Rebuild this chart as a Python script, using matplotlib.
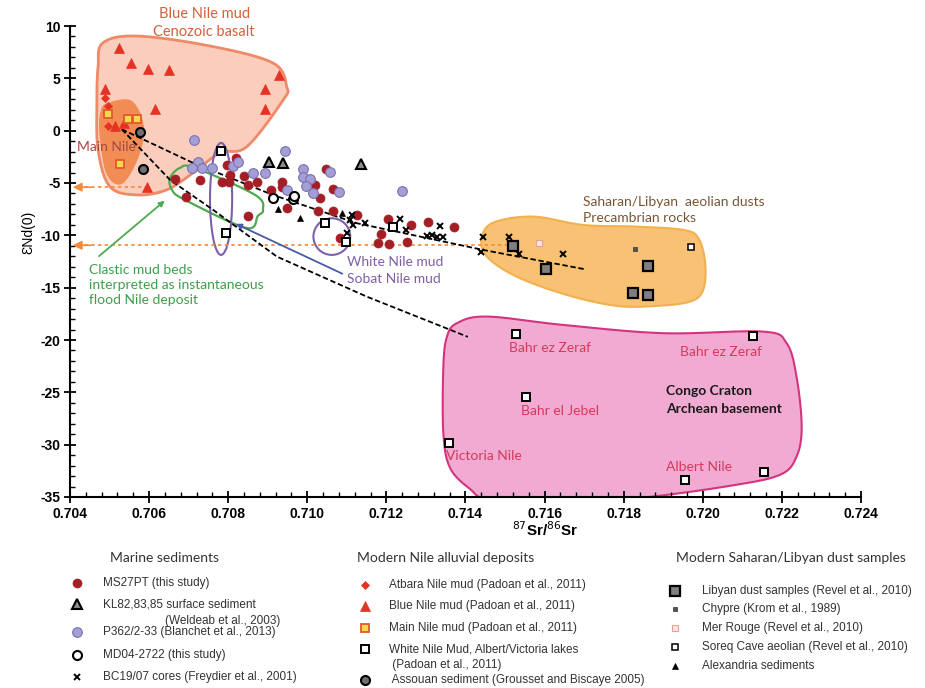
import numpy as np
import matplotlib.pyplot as plt
from matplotlib.patches import Polygon, Ellipse
from matplotlib.ticker import MultipleLocator

plt.rcParams['axes.unicode_minus'] = False
ANN = 'Lato'
ARIAL = 'Liberation Sans'

# ---- data: 87Sr/86Sr (x) and eNd(0) (y) ----
ms27_x = [0.70819, 0.70796, 0.70805, 0.70784, 0.70802, 0.70840, 0.70851, 0.70872, 0.70665, 0.70729,
          0.70693, 0.70849, 0.70935, 0.70935, 0.70907, 0.70948, 0.71019, 0.71032, 0.71047, 0.71066,
          0.71028, 0.71064, 0.71083, 0.71126, 0.71186, 0.71180, 0.71207, 0.71205, 0.71262, 0.71251,
          0.71304, 0.71372]
ms27_y = [-2.58, -3.28, -4.23, -4.87, -4.87, -4.33, -5.19, -4.87, -4.61, -4.71,
          -6.36, -8.12, -4.93, -5.41, -5.66, -7.41, -5.19, -6.40, -3.66, -5.57,
          -7.67, -7.67, -10.22, -8.05, -9.89, -10.70, -10.85, -8.43, -9.01, -10.60,
          -8.69, -9.17]

p362_x = [0.70714, 0.70724, 0.70708, 0.70733, 0.70758, 0.70813, 0.70826, 0.70944, 0.70863, 0.70893,
          0.70990, 0.70990, 0.71007, 0.70996, 0.71015, 0.71057, 0.71080, 0.70948, 0.71240]
p362_y = [-0.89, -2.96, -3.59, -3.59, -3.59, -3.34, -3.02, -1.91, -4.01, -4.01,
          -3.69, -4.39, -4.61, -5.28, -5.98, -3.97, -5.88, -5.66, -5.73]

kl82_x = [0.70904, 0.70938, 0.71135]
kl82_y = [-3.02, -3.11, -3.18]

md04_x = [0.70914, 0.70963, 0.70966]
md04_y = [-6.46, -6.52, -6.21]

bc19_x = [0.71112, 0.71108, 0.71116, 0.71100, 0.71146, 0.71234, 0.71250, 0.71336, 0.71315, 0.71327,
          0.71344, 0.71302, 0.71445, 0.71511, 0.71535, 0.71647, 0.71438]
bc19_y = [-8.05, -8.53, -9.01, -9.80, -8.79, -8.46, -9.48, -9.10, -9.96, -10.12,
          -10.12, -10.06, -10.18, -10.18, -11.78, -11.78, -11.56]

atbara_x = [0.70488, 0.70497, 0.70497]
atbara_y = [3.09, 2.36, 0.45]

bluenile_x = [0.70524, 0.70553, 0.70597, 0.70650, 0.70928, 0.70892, 0.70488, 0.70615, 0.70894,
              0.70537, 0.70514, 0.70595]
bluenile_y = [7.93, 6.44, 5.92, 5.77, 5.29, 3.95, 3.95, 2.04, 2.07, 0.71, 0.45, -5.35]

mainnile_x = [0.70495, 0.70547, 0.70569, 0.70526]
mainnile_y = [1.57, 1.09, 1.09, -3.18]

whitenile_x = [0.70782, 0.70794, 0.71045, 0.71098, 0.71217, 0.71527, 0.72126, 0.71552, 0.71358,
               0.71956, 0.72155]
whitenile_y = [-1.91, -9.74, -8.79, -10.60, -9.23, -19.45, -19.58, -25.46, -29.80, -33.36, -32.57]

assouan_x = [0.70577, 0.70585]
assouan_y = [-0.15, -3.66]

libyan_x = [0.71519, 0.71603, 0.71861, 0.71824, 0.71861]
libyan_y = [-10.98, -13.21, -12.89, -15.53, -15.69]

chypre_x, chypre_y = [0.71829], [-11.33]
merrouge_x, merrouge_y = [0.71587], [-10.70]
soreq_x, soreq_y = [0.71969], [-11.08]

alex_x = [0.70927, 0.70982, 0.71087]
alex_y = [-7.48, -8.37, -7.89]

# mixing curves
mix1_x = [0.70531, 0.70711, 0.70913, 0.71125, 0.71444, 0.71702]
mix1_y = [0.13, -3.08, -6.14, -8.84, -11.39, -13.24]
mix2_x = [0.70531, 0.70653, 0.70762, 0.70923, 0.71150, 0.71406]
mix2_y = [0.13, -4.71, -7.57, -12.03, -15.85, -19.70]

# source fields (outlines)
bn_field_x = [0.70471, 0.70483, 0.70569, 0.70754, 0.70913, 0.70948, 0.70939, 0.70847, 0.70779,
              0.70711, 0.70644, 0.70569, 0.70501, 0.70471, 0.70468]
bn_field_y = [6.11, 8.38, 9.04, 8.09, 6.47, 4.20, 2.93, -1.53, -2.13, -4.04, -5.66, -6.14, -5.35,
              -1.84, 2.93]
mn_field_x = [0.70501, 0.70556, 0.70585, 0.70572, 0.70531, 0.70493, 0.70476, 0.70480]
mn_field_y = [2.65, 2.77, 0.38, -2.48, -5.02, -4.04, -0.22, 1.98]
sa_field_x = [0.71470, 0.71571, 0.71698, 0.71833, 0.71951, 0.71989, 0.72006, 0.72001, 0.71968,
              0.71883, 0.71782, 0.71656, 0.71529, 0.71454, 0.71441]
sa_field_y = [-8.79, -8.21, -9.01, -9.17, -9.48, -10.28, -12.66, -15.21, -16.33, -16.74, -16.74,
              -15.69, -13.94, -12.03, -10.28]
cc_field_x = [0.71378, 0.71454, 0.71647, 0.71900, 0.72153, 0.72212, 0.72237, 0.72250, 0.72237,
              0.72195, 0.72069, 0.71841, 0.71639, 0.71462, 0.71411, 0.71361, 0.71344, 0.71344, 0.71353]
cc_field_y = [-18.40, -17.76, -18.56, -19.35, -19.20, -20.31, -23.50, -28.27, -31.14, -32.88,
              -33.93, -35.08, -35.46, -35.27, -34.22, -32.22, -28.90, -22.54, -19.70]
flood_x = [0.70653, 0.70678, 0.70716, 0.70868, 0.70888, 0.70875, 0.70845, 0.70691, 0.70658]
flood_y = [-4.52, -3.56, -3.56, -6.14, -7.57, -8.15, -9.29, -6.62, -5.66]


def smooth(xs, ys, n=16):
    # closed Catmull-Rom outline
    p = np.column_stack([xs, ys])
    m = len(p)
    t = np.linspace(0, 1, n, endpoint=False)[:, None]
    out = []
    for i in range(m):
        p0, p1, p2, p3 = p[i - 1], p[i], p[(i + 1) % m], p[(i + 2) % m]
        out.append(0.5 * (2 * p1 + (-p0 + p2) * t + (2 * p0 - 5 * p1 + 4 * p2 - p3) * t ** 2
                          + (-p0 + 3 * p1 - 3 * p2 + p3) * t ** 3))
    return np.vstack(out)


styles = {
    'ms27': dict(marker='o', ms=6.5, mfc='#A31F25', mec='#A31F25', mew=0.5),
    'kl82': dict(marker='^', ms=6.5, mfc='#8C8C8C', mec='black', mew=1.5),
    'p362': dict(marker='o', ms=7, mfc='#A39ED4', mec='#7A72B6', mew=0.8),
    'md04': dict(marker='o', ms=6.5, mfc='white', mec='black', mew=1.5),
    'bc19': dict(marker='x', ms=4.5, mfc='black', mec='black', mew=1.4),
    'atbara': dict(marker='D', ms=4.5, mfc='#E53323', mec='#E53323', mew=0.5),
    'bluenile': dict(marker='^', ms=7, mfc='#E53323', mec='#E53323', mew=0.5),
    'mainnile': dict(marker='s', ms=5.5, mfc='#F8D64E', mec='#E05A2A', mew=1.3),
    'whitenile': dict(marker='s', ms=5.5, mfc='white', mec='black', mew=1.4),
    'assouan': dict(marker='o', ms=6.5, mfc='#707070', mec='black', mew=1.5),
    'libyan': dict(marker='s', ms=6.5, mfc='#7F7F7F', mec='black', mew=1.6),
    'chypre': dict(marker='s', ms=3.5, mfc='#555555', mec='#333333', mew=0.5),
    'merrouge': dict(marker='s', ms=4, mfc='#FBE6E0', mec='#E8A090', mew=0.8),
    'soreq': dict(marker='s', ms=4.5, mfc='white', mec='black', mew=1.1),
    'alex': dict(marker='^', ms=4, mfc='black', mec='black', mew=0.5),
}

fig = plt.figure(figsize=(9.25, 6.88), dpi=100)
ax = fig.add_axes([70 / 925, 1 - 497 / 688, 791 / 925, 471 / 688])

# fields
ax.add_patch(Polygon(smooth(bn_field_x, bn_field_y), closed=True, fc='#FBCDBD', ec='#EE8A68', lw=2, zorder=1))
ax.add_patch(Polygon(smooth(mn_field_x, mn_field_y), closed=True, fc='#F28C55', ec='#F28C55', lw=1, zorder=1.1))
ax.add_patch(Polygon(smooth(sa_field_x, sa_field_y), closed=True, fc='#F9C173', ec='#F0B14E', lw=1.5, zorder=1))
ax.add_patch(Polygon(smooth(cc_field_x, cc_field_y), closed=True, fc='#F1AAD2', ec='#D33480', lw=1.5, zorder=1))
ax.add_patch(Polygon(smooth(flood_x, flood_y), closed=True, fc='none', ec='#4DAA50', lw=1.6, zorder=2))
ax.add_patch(Ellipse((0.70782, -6.52), 0.00056, 10.7, fc='none', ec='#7E60AA', lw=1.5, zorder=2))
ax.add_patch(Ellipse((0.71062, -10.12), 0.00093, 3.5, fc='none', ec='#7E60AA', lw=1.5, zorder=2))

# orange dotted arrows to the y axis
for x0, y0 in [(0.70595, -5.4), (0.7152, -10.95)]:
    ax.plot([0.7042, x0], [y0, y0], ls=(0, (2, 2)), color='#F08A3C', lw=1.2, zorder=2)
    ax.annotate('', xy=(0.704, y0), xytext=(0.7046, y0),
                arrowprops=dict(arrowstyle='-|>', color='#F08A3C', lw=1.2, mutation_scale=13), zorder=2)

# mixing lines
ax.plot(mix1_x, mix1_y, ls=(0, (3, 1.5)), color='black', lw=1.3, zorder=3)
ax.plot(mix2_x, mix2_y, ls=(0, (3, 1.5)), color='black', lw=1.3, zorder=3)

# samples
series = [('ms27', ms27_x, ms27_y), ('p362', p362_x, p362_y), ('kl82', kl82_x, kl82_y),
          ('md04', md04_x, md04_y), ('bc19', bc19_x, bc19_y), ('alex', alex_x, alex_y),
          ('atbara', atbara_x, atbara_y), ('bluenile', bluenile_x, bluenile_y),
          ('mainnile', mainnile_x, mainnile_y), ('whitenile', whitenile_x, whitenile_y),
          ('assouan', assouan_x, assouan_y), ('libyan', libyan_x, libyan_y),
          ('chypre', chypre_x, chypre_y), ('merrouge', merrouge_x, merrouge_y),
          ('soreq', soreq_x, soreq_y)]
for key, xs, ys in series:
    ax.plot(xs, ys, ls='none', zorder=4, clip_on=False, **styles[key])

# annotations
ax.text(0.70739, 11.15, 'Blue Nile mud', color='#D4603C', fontsize=10.5, family=ANN, ha='center', va='center', clip_on=False)
ax.text(0.70739, 9.43, 'Cenozoic basalt', color='#D4603C', fontsize=10.5, family=ANN, ha='center', va='center', clip_on=False)
ax.text(0.70418, -1.56, 'Main Nile', color='#A4493E', fontsize=10, family=ANN, va='center')
ax.text(0.71698, -6.78, 'Saharan/Libyan  aeolian dusts', color='#7A5535', fontsize=10, family=ANN, va='center')
ax.text(0.71698, -8.37, 'Precambrian rocks', color='#7A5535', fontsize=10, family=ANN, va='center')
ax.text(0.71100, -12.51, 'White Nile mud', color='#7E5FA8', fontsize=10, family=ANN, va='center')
ax.text(0.71100, -14.16, 'Sobat Nile mud', color='#7E5FA8', fontsize=10, family=ANN, va='center')
ax.annotate('', xy=(0.70813, -8.79), xytext=(0.71095, -13.78),
            arrowprops=dict(arrowstyle='-|>', color='#4A5AA8', lw=1.3, mutation_scale=8), zorder=3)
ax.text(0.70448, -12.7, 'Clastic mud beds\ninterpreted as instantaneous\nflood Nile deposit',
        color='#3E9E4A', fontsize=10, family=ANN, va='top', linespacing=1.3)
ax.annotate('', xy=(0.70645, -6.52), xytext=(0.70468, -12.16),
            arrowprops=dict(arrowstyle='-|>', color='#4DAA50', lw=1.3, mutation_scale=8), zorder=3)

pink = '#D63A5A'
ax.text(0.71510, -20.73, 'Bahr ez Zeraf', color=pink, fontsize=10, family=ANN, va='center')
ax.text(0.71942, -21.11, 'Bahr ez Zeraf', color=pink, fontsize=10, family=ANN, va='center')
ax.text(0.71540, -26.77, 'Bahr el Jebel', color=pink, fontsize=10, family=ANN, va='center')
ax.text(0.71350, -31.04, 'Victoria Nile', color=pink, fontsize=10, family=ANN, va='center')
ax.text(0.71907, -32.09, 'Albert Nile', color=pink, fontsize=10, family=ANN, va='center')
ax.text(0.71907, -24.86, 'Congo Craton', color='#1A1A1A', fontsize=10, family=ANN, weight='bold', va='center')
ax.text(0.71907, -26.58, 'Archean basement', color='#1A1A1A', fontsize=10, family=ANN, weight='bold', va='center')

# axes styling
ax.set_xlim(0.704, 0.724)
ax.set_ylim(-35, 10)
ax.set_xticks(np.arange(0.704, 0.7241, 0.002))
ax.set_xticklabels(['%.3f' % v for v in np.arange(0.704, 0.7241, 0.002)])
ax.set_yticks(np.arange(-35, 11, 5))
ax.xaxis.set_minor_locator(MultipleLocator(0.0004))
ax.yaxis.set_minor_locator(MultipleLocator(1))
for s in ['top', 'right']:
    ax.spines[s].set_visible(False)
for s in ['left', 'bottom']:
    ax.spines[s].set_linewidth(1.5)
ax.tick_params(which='major', direction='inout', length=8, width=1.3, pad=3)
ax.tick_params(which='minor', direction='in', length=3.5, width=1)
for lab in ax.get_xticklabels() + ax.get_yticklabels():
    lab.set_family(ARIAL)
    lab.set_weight('bold')
    lab.set_fontsize(10)
fig.text(28 / 925, 1 - 232 / 688, 'ƐNd(0)', rotation=90, ha='center', va='center', fontsize=10, family=ARIAL)
fig.text(545 / 925, 1 - 530 / 688, r'$^{87}$Sr/$^{86}$Sr', ha='center', va='center', fontsize=11,
         family=ARIAL, weight='bold')

# legend block
lax = fig.add_axes([0, 0, 1, 140 / 688])
lax.set_xlim(0, 925)
lax.set_ylim(688, 548)
lax.axis('off')

headers = ['Marine sediments', 'Modern Nile alluvial deposits', 'Modern Saharan/Libyan dust samples']
header_x = [110, 357, 676]
leg_cols = [
    (77, 103, [('ms27', 'MS27PT (this study)', 582.5),
               ('kl82', 'KL82,83,85 surface sediment', 604),
               (None, '(Weldeab et al., 2003)', 620.5),
               ('p362', 'P362/2-33 (Blanchet et al., 2013)', 632),
               ('md04', 'MD04-2722 (this study)', 654.5),
               ('bc19', 'BC19/07 cores (Freydier et al., 2001)', 677)]),
    (365, 389, [('atbara', 'Atbara Nile mud (Padoan et al., 2011)', 585),
                ('bluenile', 'Blue Nile mud (Padoan et al., 2011)', 606),
                ('mainnile', 'Main Nile mud (Padoan et al., 2011)', 627.5),
                ('whitenile', 'White Nile Mud, Albert/Victoria lakes', 649),
                (None, ' (Padoan et al., 2011)', 665),
                ('assouan', ' Assouan sediment (Grousset and Biscaye 2005)', 679.5)]),
    (675, 702, [('libyan', 'Libyan dust samples (Revel et al., 2010)', 591),
                ('chypre', 'Chypre (Krom et al., 1989)', 609),
                ('merrouge', 'Mer Rouge (Revel et al., 2010)', 627.5),
                ('soreq', 'Soreq Cave aeolian (Revel et al., 2010)', 646.5),
                ('alex', 'Alexandria sediments', 665.5)]),
]
for h, hx in zip(headers, header_x):
    lax.text(hx, 558, h, fontsize=10, family=ANN, color='#333333', va='center')
for mx, tx, rows in leg_cols:
    for key, label, yy in rows:
        lx = tx
        if key is None:
            lx = tx + 62 if 'Weldeab' in label else tx
        else:
            lax.plot([mx], [yy], ls='none', **styles[key])
        lax.text(lx, yy, label, fontsize=8.5, family=ARIAL, color='#333333', va='center')

fig.savefig('out.png', dpi=100)
